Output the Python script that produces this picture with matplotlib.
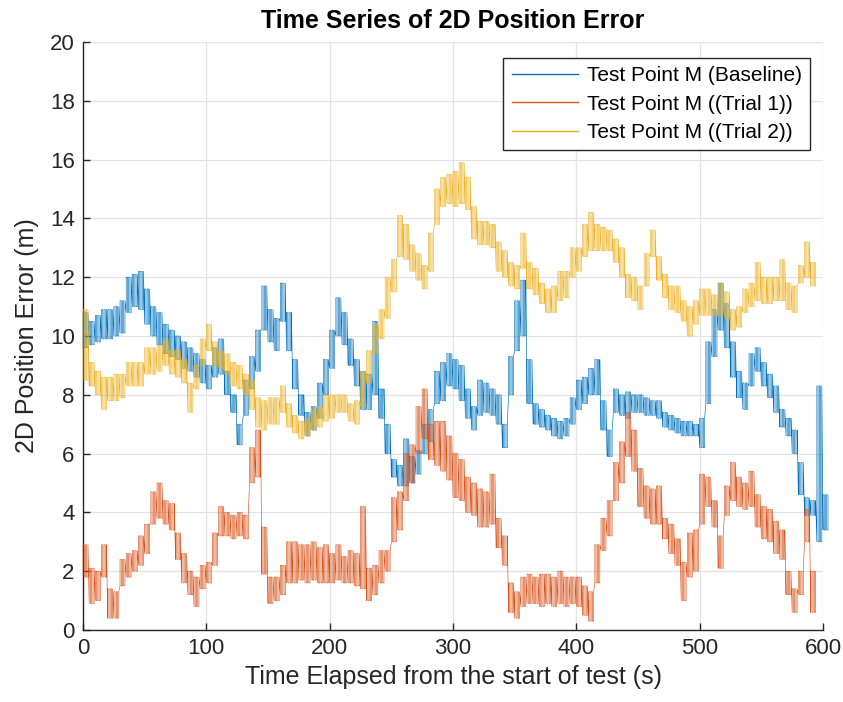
import numpy as np
import matplotlib
matplotlib.use("Agg")
import matplotlib.pyplot as plt

plt.rcParams['font.family'] = ['Liberation Sans', 'DejaVu Sans']

# ---- data: lower / upper envelope of each noisy series, read every 5 s ----
t_base = list(range(0, 605, 5))
base_lo = [9.6, 9.7, 9.8, 9.9, 9.9, 10.0, 10.1, 10.8, 11.0, 10.9, 10.4, 10.0, 9.7, 9.4, 9.3, 9.2, 8.9, 8.8, 8.6, 8.4,
           8.2, 8.6, 8.7, 8.0, 7.4, 6.3, 7.3, 8.2, 8.8, 10.2, 9.8, 9.5, 10.5, 9.5, 8.2, 7.3, 6.6, 6.8, 7.2, 8.0,
           8.9, 10.0, 9.7, 9.0, 8.3, 7.5, 7.5, 8.0, 7.2, 6.0, 5.2, 4.9, 4.9, 5.0, 5.3, 6.0, 6.4, 7.7, 7.8, 8.3,
           8.2, 7.8, 7.2, 6.8, 7.3, 7.4, 7.3, 7.0, 6.2, 8.0, 9.5, 10.0, 7.7, 7.0, 6.9, 6.8, 6.6, 6.5, 6.6, 7.0,
           7.5, 7.7, 8.0, 8.0, 6.8, 5.9, 7.4, 7.3, 7.2, 7.4, 7.4, 7.3, 7.3, 7.2, 6.9, 6.8, 6.7, 6.6, 6.6, 6.6,
           6.2, 7.7, 9.3, 10.2, 9.6, 8.6, 7.9, 7.5, 8.3, 8.8, 8.3, 7.9, 7.4, 6.9, 6.6, 6.0, 4.6, 3.9, 3.9, 3.0,
           3.4]
base_hi = [10.8, 10.5, 10.7, 10.9, 10.9, 11.0, 11.2, 12.0, 12.1, 12.2, 11.6, 11.0, 10.8, 10.4, 10.2, 10.0, 9.8, 9.6, 9.4, 9.2,
           9.0, 9.6, 9.9, 8.8, 8.0, 7.0, 8.5, 9.3, 10.2, 11.7, 10.9, 10.6, 11.8, 10.8, 9.2, 8.0, 7.4, 7.6, 8.4, 9.2,
           10.2, 11.3, 10.8, 9.9, 9.2, 8.8, 8.7, 10.5, 8.2, 7.0, 5.8, 5.6, 6.5, 5.9, 6.1, 7.0, 7.5, 8.8, 9.1, 9.4,
           9.2, 9.0, 8.2, 7.6, 8.5, 8.4, 8.2, 8.0, 7.0, 9.3, 11.2, 11.9, 9.2, 7.7, 7.5, 7.3, 7.2, 7.1, 7.2, 7.9,
           8.5, 8.6, 8.9, 9.2, 7.8, 6.8, 8.2, 8.0, 8.1, 8.0, 8.0, 7.9, 7.8, 7.8, 7.4, 7.3, 7.2, 7.1, 7.1, 7.0,
           7.2, 9.8, 10.9, 11.8, 11.1, 9.8, 8.8, 8.4, 9.4, 9.6, 9.1, 8.7, 8.3, 7.5, 7.2, 6.8, 5.7, 4.5, 4.4, 8.3,
           4.6]

t_trial1 = list(range(0, 595, 5))
trial1_lo = [1.8, 0.9, 1.0, 1.8, 0.4, 0.4, 1.5, 1.8, 2.0, 2.2, 2.6, 3.6, 3.8, 3.6, 3.4, 2.4, 1.6, 1.2, 0.8, 1.4,
             1.6, 2.2, 3.2, 3.2, 3.1, 3.2, 3.1, 5.0, 5.2, 1.9, 0.9, 1.0, 1.2, 1.6, 1.6, 1.7, 1.6, 1.7, 1.6, 1.6,
             1.6, 1.7, 1.6, 1.6, 1.5, 1.4, 1.0, 1.2, 1.6, 2.0, 3.0, 3.4, 4.4, 5.0, 6.0, 6.5, 5.8, 5.6, 5.4, 5.1,
             4.5, 4.4, 4.0, 3.9, 3.5, 3.5, 3.6, 2.8, 2.2, 0.6, 0.4, 0.8, 0.9, 0.9, 0.8, 0.9, 0.8, 0.9, 0.8, 0.9,
             0.8, 0.5, 0.3, 1.6, 2.7, 3.2, 4.4, 5.0, 5.9, 5.4, 4.2, 3.8, 3.6, 3.6, 3.1, 2.6, 2.2, 1.0, 1.8, 2.0,
             3.6, 4.2, 3.5, 2.1, 3.9, 4.4, 4.2, 4.1, 4.2, 3.5, 3.1, 3.0, 2.6, 2.4, 1.2, 0.6, 1.2, 3.0, 0.6]
trial1_hi = [2.9, 2.1, 2.0, 2.9, 1.4, 1.3, 2.4, 2.6, 2.7, 3.2, 3.6, 4.7, 5.0, 4.4, 4.3, 3.3, 2.6, 2.0, 1.8, 2.2,
             2.3, 3.3, 4.2, 4.0, 3.9, 4.0, 3.9, 6.2, 6.8, 3.5, 1.8, 1.8, 2.2, 3.0, 3.0, 2.9, 2.9, 3.0, 2.8, 2.9,
             2.6, 2.9, 2.5, 2.7, 2.6, 4.2, 2.1, 2.2, 2.7, 2.7, 4.5, 4.7, 6.0, 6.3, 7.6, 8.2, 7.0, 7.1, 7.1, 6.6,
             6.0, 5.8, 5.2, 5.0, 4.8, 4.7, 5.3, 3.8, 3.2, 1.6, 1.3, 1.8, 1.9, 1.8, 1.9, 1.9, 1.8, 2.0, 1.8, 1.8,
             1.8, 1.5, 1.3, 2.9, 3.8, 4.4, 5.7, 6.4, 7.4, 6.8, 5.5, 4.9, 4.8, 4.9, 3.8, 3.6, 3.1, 2.3, 3.3, 3.4,
             5.3, 5.2, 4.4, 3.2, 4.9, 5.7, 5.2, 5.0, 5.4, 4.6, 4.2, 4.1, 3.7, 3.4, 2.0, 1.4, 2.0, 4.1, 2.0]

t_trial2 = list(range(0, 595, 5))
trial2_lo = [8.5, 8.3, 8.0, 7.5, 7.8, 7.8, 7.9, 8.3, 8.3, 8.3, 8.7, 8.7, 8.8, 9.0, 8.7, 8.6, 8.4, 7.4, 8.2, 9.0,
             9.5, 9.0, 8.9, 8.7, 8.3, 8.2, 8.0, 7.5, 6.9, 6.8, 7.0, 7.0, 7.4, 6.9, 6.7, 6.5, 6.6, 6.8, 6.9, 7.1,
             7.2, 7.4, 7.4, 7.1, 7.0, 7.6, 8.4, 9.4, 9.9, 10.6, 11.5, 12.7, 12.6, 12.2, 11.9, 11.6, 12.2, 13.8, 14.4, 14.5,
             14.4, 14.5, 14.3, 13.3, 13.1, 13.1, 13.0, 12.2, 12.0, 11.7, 11.6, 12.3, 11.6, 11.4, 11.1, 10.8, 10.8, 11.2, 11.3, 12.0,
             12.2, 12.7, 12.9, 12.9, 12.9, 12.9, 12.5, 12.0, 11.3, 11.2, 10.9, 11.7, 12.7, 11.9, 11.3, 10.9, 10.8, 10.5, 10.0, 10.4,
             10.7, 10.7, 10.7, 10.7, 10.6, 10.2, 10.3, 10.8, 11.0, 11.2, 11.1, 11.1, 11.2, 11.2, 10.9, 10.8, 11.8, 12.0, 11.7]
trial2_hi = [10.9, 9.1, 8.8, 8.6, 8.6, 8.7, 8.7, 9.1, 9.1, 9.1, 9.6, 9.6, 9.7, 9.9, 9.5, 9.5, 9.2, 8.4, 9.0, 9.9,
             10.4, 9.8, 9.5, 9.4, 9.1, 9.0, 8.7, 8.5, 7.9, 7.8, 7.9, 7.9, 8.3, 7.7, 7.3, 7.1, 7.2, 7.5, 7.6, 8.0,
             8.0, 8.0, 8.0, 7.7, 7.8, 8.8, 9.5, 10.4, 10.9, 12.0, 12.6, 14.1, 13.8, 13.1, 12.8, 12.4, 13.5, 15.0, 15.4, 15.5,
             15.6, 15.9, 15.4, 14.4, 13.9, 13.9, 13.8, 13.2, 12.9, 12.5, 12.4, 13.5, 12.5, 12.3, 11.8, 11.6, 11.7, 12.2, 12.2, 13.0,
             13.0, 13.8, 14.2, 13.8, 13.7, 13.6, 13.3, 13.0, 12.1, 12.0, 11.7, 12.8, 13.6, 12.7, 12.1, 11.7, 11.7, 11.2, 11.0, 11.2,
             11.6, 11.6, 11.4, 11.8, 11.5, 10.9, 11.0, 11.6, 11.8, 12.5, 12.0, 12.0, 12.0, 12.6, 11.8, 11.7, 12.4, 13.2, 12.5]

labels = ['Test Point M (Baseline)', 'Test Point M ((Trial 1))', 'Test Point M ((Trial 2))']
colors = ['#0072BD', '#D95319', '#EDB120']
x_ticks = [0, 100, 200, 300, 400, 500, 600]
y_ticks = [0, 2, 4, 6, 8, 10, 12, 14, 16, 18, 20]


def jitter_series(t, lo, hi):
    """Vertical strokes between the read lower and upper envelope inside each 5 s slot."""
    t = np.asarray(t, float)
    lo = np.asarray(lo, float)
    hi = np.asarray(hi, float)
    xs, ys = [], []
    for k in range(5):
        xs += [t + k, t + k]
        ys += [lo, hi] if k % 2 == 0 else [hi, lo]
    x = np.column_stack(xs).ravel()
    y = np.column_stack(ys).ravel()
    return x, y


fig = plt.figure(figsize=(8.43, 7.02), dpi=100)
ax = fig.add_axes([0.0985, 0.1026, 0.8778, 0.8376])

series = [(t_base, base_lo, base_hi), (t_trial1, trial1_lo, trial1_hi), (t_trial2, trial2_lo, trial2_hi)]
for (t, lo, hi), c, lab in zip(series, colors, labels):
    x, y = jitter_series(t, lo, hi)
    ax.plot(x, y, color=c, lw=0.45, label=lab, clip_on=False, zorder=3)

ax.set_xlim(0, 600)
ax.set_ylim(0, 20)
ax.set_xticks(x_ticks)
ax.set_yticks(y_ticks)
ax.grid(True, color='#e3e3e3', lw=0.9)
ax.set_axisbelow(True)
for s in ['top', 'right']:
    ax.spines[s].set_visible(False)
for s in ['left', 'bottom']:
    ax.spines[s].set_color('#262626')
    ax.spines[s].set_linewidth(1.0)
ax.tick_params(direction='in', length=5, width=1, colors='#262626', labelsize=16, pad=6)

ax.set_xlabel('Time Elapsed from the start of test (s)', fontsize=18, color='#262626', labelpad=4)
ax.set_ylabel('2D Position Error (m)', fontsize=18, color='#262626', labelpad=8)
ax.set_title('Time Series of 2D Position Error', fontsize=18, fontweight='bold', color='black', pad=10)

leg = ax.legend(loc='upper right', bbox_to_anchor=(0.9824, 0.973), borderaxespad=0,
                fontsize=15, frameon=True, fancybox=False, framealpha=1, edgecolor='#262626',
                handlelength=3.2, handletextpad=0.4, labelspacing=0.45, borderpad=0.4)
leg.get_frame().set_linewidth(1.0)
for h in leg.get_lines():
    h.set_linewidth(1.0)

fig.savefig('out.png', dpi=100)
